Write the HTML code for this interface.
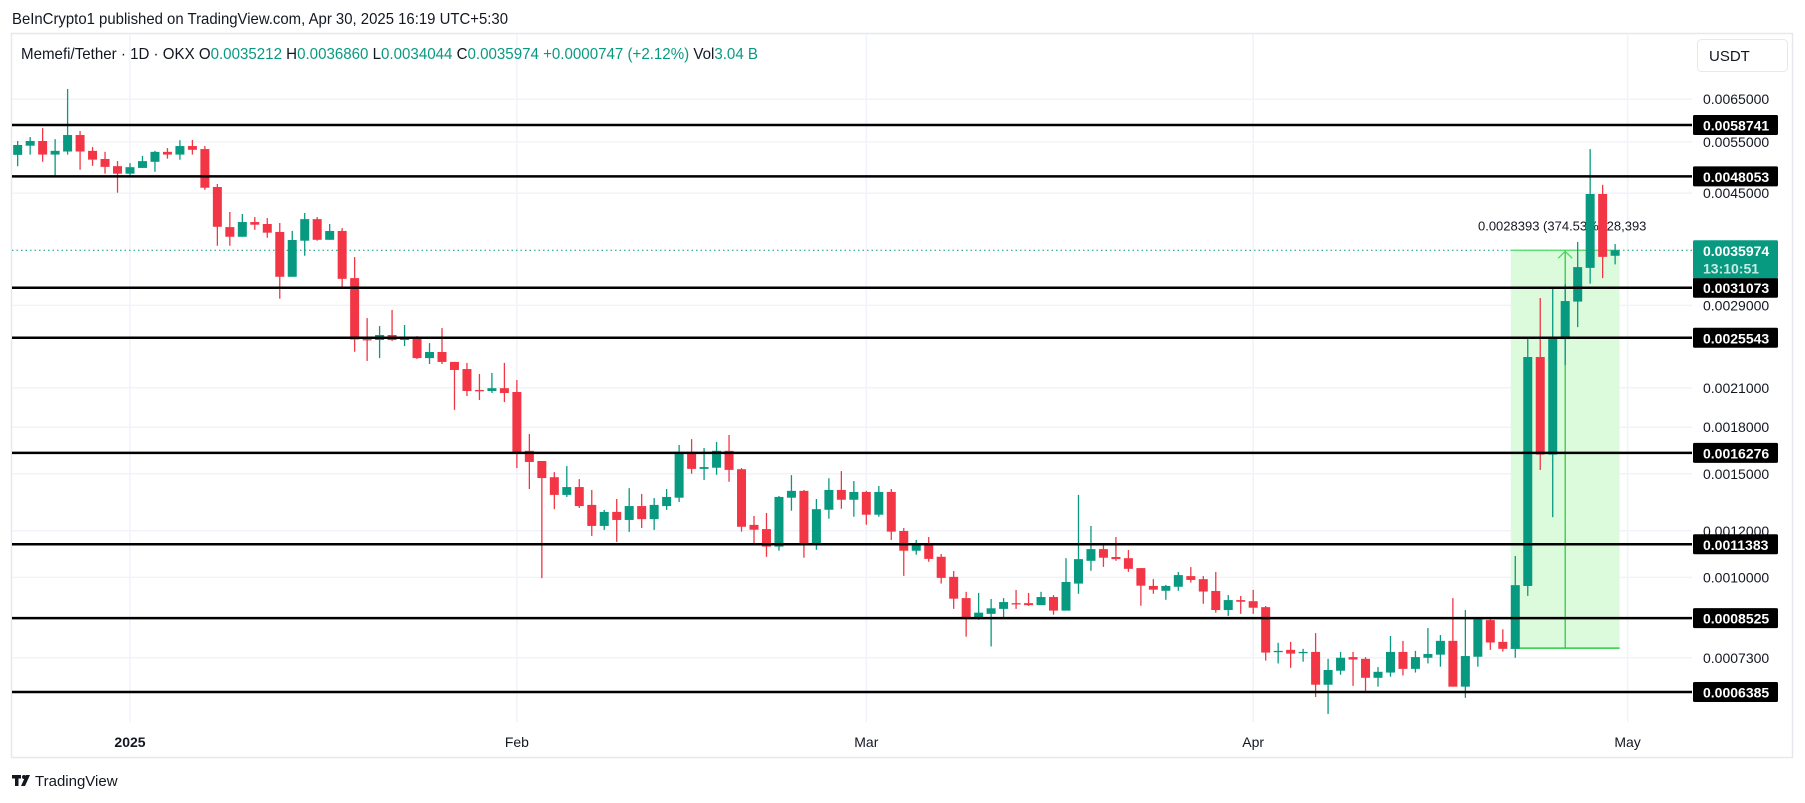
<!DOCTYPE html>
<html><head><meta charset="utf-8">
<style>
html,body{margin:0;padding:0;background:#fff;}
svg{display:block;font-family:"Liberation Sans",sans-serif;}
</style></head>
<body>
<svg id="chart" width="1805" height="803" viewBox="0 0 1805 803" xmlns="http://www.w3.org/2000/svg">
  <rect x="0" y="0" width="1805" height="803" fill="#ffffff"/>
  <text x="12" y="24" font-size="16" fill="#131722" textLength="496" lengthAdjust="spacingAndGlyphs">BeInCrypto1 published on TradingView.com, Apr 30, 2025 16:19 UTC+5:30</text>
  <rect x="11.5" y="33.5" width="1781" height="724" fill="none" stroke="#e6e8ee" stroke-width="1.5"/>
  <g id="grid"></g>
  <g id="measure"></g>
  <g id="candles"></g>
  <g id="levels"></g>
  <g id="yaxis"></g>
  <g id="xaxis"></g>
  <text x="21" y="59" font-size="16" fill="#131722" textLength="737" lengthAdjust="spacingAndGlyphs">Memefi/Tether · 1D · OKX  O<tspan fill="#089981">0.0035212</tspan>  H<tspan fill="#089981">0.0036860</tspan>  L<tspan fill="#089981">0.0034044</tspan>  C<tspan fill="#089981">0.0035974</tspan>  <tspan fill="#089981">+0.0000747 (+2.12%)</tspan>  Vol<tspan fill="#089981">3.04 B</tspan></text>
  <rect x="1697.5" y="39.5" width="90" height="32" rx="4" fill="#fff" stroke="#e6e8ee"/>
  <text x="1709" y="61" font-size="15" fill="#131722">USDT</text>
  <g>
    <rect x="12" y="775" width="9" height="3.5" fill="#131722"/>
    <rect x="15" y="775" width="3.5" height="11" fill="#131722"/>
    <circle cx="24" cy="777" r="2" fill="#131722"/>
    <polygon points="26,775 30,775 25,786 21,786" fill="#131722"/>
    <text x="35" y="786" font-size="15" fill="#131722">TradingView</text>
  </g>
</svg>
<script>
// ---- data (prices in micro-USDT, i.e. x 1e-6) ----
const UNIT = 1e-6;
const startDate = "2024-12-23";
const opens = [5226,5417,5518,5232,5295,5648,5309,5143,5000,4855,4966,5086,5288,5232,5410,5346,4608,3939,3793,4018,3987,3865,3243,3735,4064,3748,3880,3226,2541,2532,2582,2532,2561,2359,2416,2324,2260,2082,2074,2097,2066,1641,1577,1480,1381,1424,1328,1223,1292,1252,1322,1256,1322,1366,1634,1529,1536,1641,1527,1228,1208,1128,1366,1403,1141,1303,1408,1355,1397,1278,1397,1199,1110,1144,1084,1002,922,850,867,884,904,904,897,926,878,976,1067,1117,1083,1078,1037,967,949,964,1005,993,948,880,915,911,890,747,753,745,747,657,694,732,727,675,689,747,699,730,739,780,652,733,846,777,756,967,2369,1617,2541,2943,3358,4484,3521.2];
const highs = [5518,5603,5803,5558,6763,5738,5389,5288,5100,5060,5205,5309,5367,5535,5540,5410,4663,4179,4146,4097,4081,4003,3880,4163,4097,3987,3924,3503,2759,2674,2848,2685,2571,2502,2653,2324,2315,2217,2226,2315,2165,1753,1577,1510,1546,1469,1408,1302,1359,1418,1386,1364,1413,1679,1718,1659,1699,1746,1534,1272,1287,1375,1492,1408,1359,1474,1516,1458,1403,1430,1413,1213,1158,1171,1096,1025,945,941,919,922,952,941,945,933,1078,1381,1223,1135,1171,1113,1037,993,971,1021,1041,1005,1021,933,930,952,894,774,777,756,804,727,747,747,732,704,795,780,750,820,798,922,880,853,849,816,1087,2546,2984,3116,3153,3716,5346,4648,3686.0];
const lows = [5000,5232,5086,4811,5232,4930,5006,4855,4507,4797,4966,4893,5149,5129,5232,4558,3662,3662,3793,3897,3778,2976,3243,3521,3735,3748,3119,2419,2333,2359,2522,2473,2350,2305,2305,1926,2033,2002,2058,1986,1534,1413,997,1306,1370,1312,1176,1204,1149,1195,1213,1204,1302,1343,1500,1464,1494,1454,1196,1141,1084,1110,1298,1080,1114,1258,1308,1268,1229,1268,1158,1006,1093,1063,976,884,793,847,763,850,884,894,897,864,878,938,1026,1042,1067,1022,895,938,916,949,980,902,871,860,867,867,722,714,702,719,626,586,683,654,636,652,678,681,689,714,705,652,624,705,753,748,730,930,1522,1266,2296,2663,3157,3226,3404.4];
const closes = [5432,5518,5232,5309,5648,5295,5129,4986,4855,4980,5100,5288,5232,5410,5331,4595,3944,3793,4018,3976,3854,3243,3745,4064,3748,3880,3217,2537,2532,2582,2532,2561,2359,2416,2324,2252,2074,2078,2097,2058,1634,1571,1475,1381,1424,1322,1223,1292,1252,1322,1256,1328,1370,1634,1529,1540,1641,1523,1219,1205,1128,1370,1403,1141,1306,1408,1355,1397,1278,1397,1196,1110,1144,1075,998,920,854,871,886,908,902,897,926,878,982,1074,1117,1080,1074,1034,968,953,967,1009,990,946,880,915,909,888,745,750,742,747,657,696,730,725,675,691,747,699,732,741,780,652,735,849,775,756,970,2369,1617,2561,2949,3368,4484,3506,3597.4];
const levelValues = [0.0058741,0.0048053,0.0031073,0.0025543,0.0016276,0.0011383,0.0008525,0.0006385];
const tickValues = [0.0065,0.0055,0.0045,0.0029,0.0021,0.0018,0.0015,0.0012,0.0010,0.00073];
const monthLabels = ["2025","Feb","Mar","Apr","May"];
const monthDates = ["2025-01-01","2025-02-01","2025-03-01","2025-04-01","2025-05-01"];
const lastPrice = 0.0035974;
const countdown = "13:10:51";
const measureStartIndex = 120;
const measureEndIndex = 128;
const measureLow = 0.0007581;
const measureText = "0.0028393 (374.53%) 28,393";

// ---- axis functions ----
const NS = "http://www.w3.org/2000/svg";
const PLOT_L = 12, PLOT_R = 1692;
const DAY_PX = 12.48, X0 = 130; // x of 2025-01-01
const REF_P = 0.0058741, REF_Y = 125, K = 255.5;
const DAY0 = Date.UTC(2025,0,1);
function dayOf(s){const [y,m,d]=s.split("-").map(Number);return Math.round((Date.UTC(y,m-1,d)-DAY0)/86400000);}
const startDay = dayOf(startDate);
function xIdx(i){return X0 + DAY_PX*(startDay+i);}
function xDate(s){return X0 + DAY_PX*dayOf(s);}
function y(p){return REF_Y + K*(Math.log(REF_P)-Math.log(p));}
function mk(tag, attrs, parent){const e=document.createElementNS(NS,tag);for(const k in attrs)e.setAttribute(k,attrs[k]);parent.appendChild(e);return e;}

const grid=document.getElementById('grid');
const candles=document.getElementById('candles');
const levels=document.getElementById('levels');
const yaxis=document.getElementById('yaxis');
const xaxis=document.getElementById('xaxis');
const measure=document.getElementById('measure');

// grid + price ticks
tickValues.forEach(v=>{
  const yy=y(v);
  const g=mk('line',{x1:PLOT_L,x2:PLOT_R,y1:yy,y2:yy,stroke:'#f0f3fa','stroke-width':1.5},grid);
  
  
  const t=mk('text',{x:1703,y:yy+5,'font-size':14,fill:'#131722'},yaxis);
  t.textContent=v.toFixed(7);
  
  
});
monthDates.forEach((d,i)=>{
  const xx=xDate(d);
  const g=mk('line',{x1:xx,x2:xx,y1:34,y2:722,stroke:'#f0f3fa','stroke-width':1.5},grid);
  
  
  const t=mk('text',{x:xx,y:747,'font-size':14,fill:'#131722','text-anchor':'middle','font-weight':i===0?'bold':'normal'},xaxis);
  t.textContent=monthLabels[i];
  
  
});

// measure tool
(function(){
  const x1=xIdx(measureStartIndex)-4.5, x2=xIdx(measureEndIndex)+4.5;
  const yt=y(lastPrice), yb=y(measureLow);
  const r=mk('rect',{x:x1,y:yt,width:x2-x1,height:yb-yt,fill:'#dcfadc'},measure);
  
  
  const lt=mk('line',{x1:x1,x2:x2,y1:yt,y2:yt,stroke:'#4cd964','stroke-width':1.3},measure);
  
  
  const lb=mk('line',{x1:x1,x2:x2,y1:yb,y2:yb,stroke:'#2ecc40','stroke-width':1.5},measure);
  
  
  const cx=(x1+x2)/2;
  const v=mk('line',{x1:cx,x2:cx,y1:yb,y2:yt,stroke:'#2ecc40','stroke-width':1.3},measure);
  
  
  const a=mk('polyline',{points:`${cx-7},${yt+8} ${cx},${yt+1} ${cx+7},${yt+8}`,fill:'none',stroke:'#4cd964','stroke-width':1.3},measure);
  
  
  const t=mk('text',{x:cx-3,y:yt-20,'font-size':13,fill:'#131722','text-anchor':'middle'},measure);
  t.textContent=measureText;
  
  
})();

// dotted last price line
(function(){
  const yy=y(lastPrice);
  const l=mk('line',{x1:PLOT_L,x2:PLOT_R,y1:yy,y2:yy,stroke:'#089981','stroke-width':1,'stroke-dasharray':'1.5,3'},grid);
  
  
})();

// candles
for(let i=0;i<opens.length;i++){
  const o=opens[i]*UNIT,h=highs[i]*UNIT,l=lows[i]*UNIT,c=closes[i]*UNIT;
  const col=c>=o?'#089981':'#f23645';
  const xx=xIdx(i);
  const g=mk('g',{},candles);
  
  
  mk('line',{x1:xx,x2:xx,y1:y(h),y2:y(l),stroke:col,'stroke-width':1.3},g);
  const top=Math.min(y(o),y(c)),bot=Math.max(y(o),y(c));
  mk('rect',{x:xx-4.5,y:top,width:9,height:Math.max(1.3,bot-top),fill:col},g);
}

// levels
levelValues.forEach(v=>{
  const yy=y(v);
  const l=mk('line',{x1:PLOT_L,x2:PLOT_R,y1:yy,y2:yy,stroke:'#000','stroke-width':2.5},levels);
  
  
  const r=mk('rect',{x:1693,y:yy-10,width:85,height:20,rx:1.5,fill:'#000'},yaxis);
  
  
  const t=mk('text',{x:1703,y:yy+5.5,'font-size':14,'font-weight':'bold',fill:'#fff'},yaxis);
  t.textContent=v.toFixed(7);
  
  
});

// current price tag
(function(){
  const yy=y(lastPrice);
  const r=mk('rect',{x:1693,y:yy-10,width:85,height:38,rx:1.5,fill:'#089981'},yaxis);
  
  
  const t=mk('text',{x:1703,y:yy+5.5,'font-size':14,'font-weight':'bold',fill:'#fff'},yaxis);
  t.textContent=lastPrice.toFixed(7);
  
  
  const t2=mk('text',{x:1703,y:yy+23,'font-size':14,'font-weight':'bold',fill:'#c8ece5'},yaxis);
  t2.textContent=countdown;
  
  
})();
</script>
</body></html>
